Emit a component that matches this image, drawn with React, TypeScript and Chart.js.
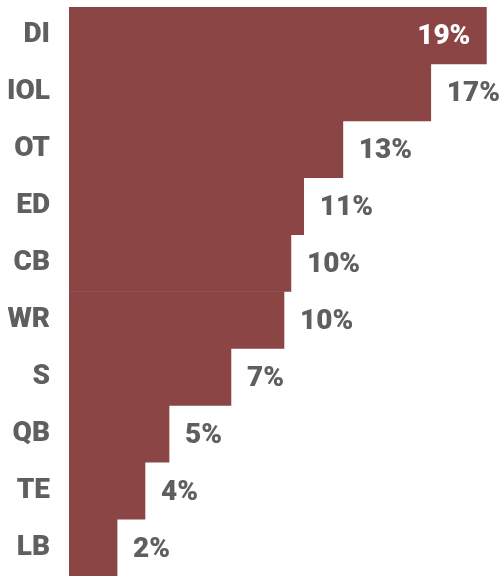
import React, { useEffect, useRef } from "react";
import { Chart, registerables } from "chart.js";

Chart.register(...registerables);

const positions = ["DI", "IOL", "OT", "ED", "CB", "WR", "S", "QB", "TE", "LB"];
const shares = [19.28, 16.71, 12.65, 10.84, 10.25, 9.93, 7.48, 4.62, 3.51, 2.22];
const axisMax = 20;

const BAR = "#8B4545";
const TEXT = "#5f5f5f";
const FONT = "Roboto, 'Noto Sans', sans-serif";

const valueLabels = {
  id: "valueLabels",
  afterDatasetsDraw(chart: any) {
    const { ctx, chartArea } = chart;
    const meta = chart.getDatasetMeta(0);
    ctx.save();
    ctx.font = `900 28px ${FONT}`;
    ctx.textBaseline = "middle";
    meta.data.forEach((bar: any, i: number) => {
      const text = Math.round(shares[i]) + "%";
      const w = ctx.measureText(text).width;
      const y = bar.y + 2;
      if (bar.x + 16 + w > chartArea.right) {
        ctx.fillStyle = "#ffffff";
        ctx.textAlign = "right";
        ctx.fillText(text, bar.x - 16, y);
      } else {
        ctx.fillStyle = TEXT;
        ctx.textAlign = "left";
        ctx.fillText(text, bar.x + 16, y);
      }
    });
    ctx.restore();
  },
};

export default function App() {
  const ref = useRef<HTMLCanvasElement>(null);
  useEffect(() => {
    document.body.style.margin = "0";
    const chart = new Chart(ref.current!, {
      type: "bar",
      data: {
        labels: positions,
        datasets: [
          {
            data: shares,
            backgroundColor: BAR,
            borderWidth: 0,
            barPercentage: 1,
            categoryPercentage: 1,
          },
        ],
      },
      options: {
        indexAxis: "y",
        animation: false,
        responsive: false,
        maintainAspectRatio: false,
        layout: { padding: { top: 7, right: 2, bottom: 0, left: 0 } },
        plugins: { legend: { display: false }, tooltip: { enabled: false } },
        scales: {
          x: { display: false, min: 0, max: axisMax },
          y: {
            grid: { display: false, drawTicks: false },
            border: { display: false },
            ticks: {
              color: TEXT,
              font: { family: FONT, size: 28, weight: "900" },
              padding: 19,
            },
            afterFit: (s: any) => {
              s.width = 69;
              s.paddingTop = 0;
              s.paddingBottom = 0;
            },
          },
        },
      },
      plugins: [valueLabels],
    });
    return () => chart.destroy();
  }, []);
  return (
    <div style={{ width: 504, height: 576 }}>
      <canvas ref={ref} width={504} height={576} style={{ display: "block" }} />
    </div>
  );
}
